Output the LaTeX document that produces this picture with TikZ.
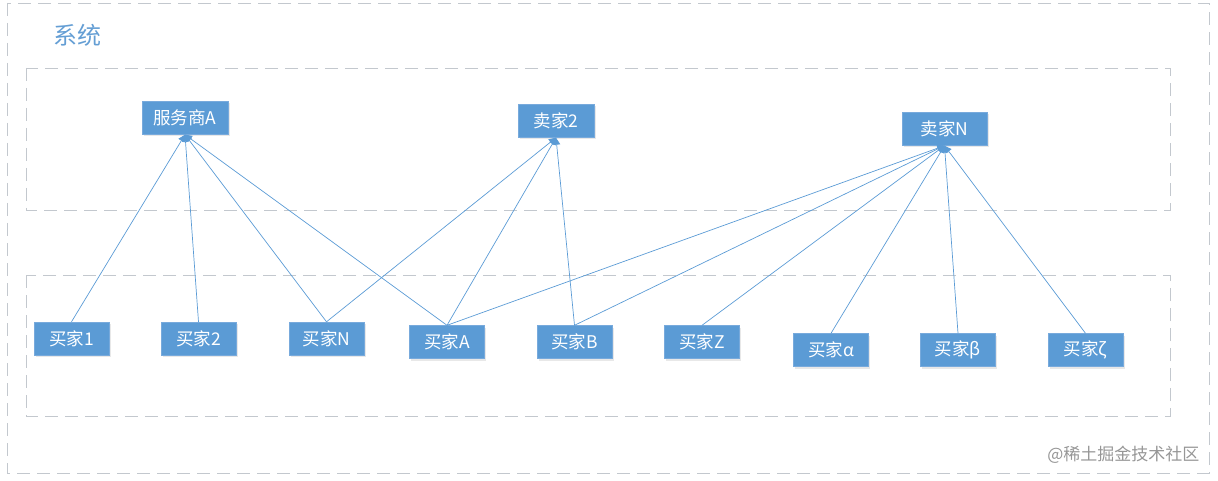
\documentclass[tikz,border=0pt]{standalone}
\usepackage{fontspec}
\usepackage{tikz}
\usetikzlibrary{
  arrows.meta,
  shadows
}
\newfontfamily\cjk{Noto Sans CJK SC}
\definecolor{boxblue}{RGB}{91,155,213}
\definecolor{boxedge}{RGB}{120,170,220}
\definecolor{titleblue}{RGB}{100,158,212}
\definecolor{frameline}{RGB}{195,200,206}
\definecolor{markgray}{RGB}{150,150,150}
\tikzset{
  party/.style={draw=boxedge,fill=boxblue,text=white,inner sep=0pt,
    minimum width=75pt,minimum height=33pt,font=\cjk\fontsize{17.5}{17.5}\selectfont,
    drop shadow={opacity=0.18,shadow xshift=1.5pt,shadow yshift=-2pt}},
  frame/.style={draw=frameline,line width=0.9pt,dash pattern=on 13pt off 7pt},
  link/.style={-{Triangle[length=7pt,width=7pt]},draw=boxblue,line width=0.7pt},
  titlelab/.style={font=\cjk\fontsize{24}{24}\selectfont,text=titleblue,anchor=west},
  marklab/.style={font=\cjk\fontsize{17}{17}\selectfont,text=markgray,anchor=east}
}

\begin{document}
\begin{tikzpicture}[x=1pt,y=-1pt]
  \useasboundingbox (0,0) rectangle (1218,481);
  % frames
  \draw[frame] (7,3) rectangle (1209,473);
  \draw[frame] (26,68) rectangle (1170,210);
  \draw[frame] (26,275) rectangle (1170,416);
  \node[titlelab] (title) at (50,35) {系统};
  \node[marklab] (mark) at (1203,455) {@稀土掘金技术社区};
  % sellers
  \node[party,minimum width=86pt] (svcA) at (185,118) {服务商A};
  \node[party,minimum width=76pt] (sell2) at (556,121) {卖家2};
  \node[party,minimum width=85pt] (sellN) at (944.5,129) {卖家N};
  % buyers
  \node[party] (buy1) at (71.5,338.5) {买家1};
  \node[party] (buy2) at (198.5,338.5) {买家2};
  \node[party] (buyN) at (326.5,338.5) {买家N};
  \node[party] (buyA) at (447,342) {买家A};
  \node[party] (buyB) at (574.5,342) {买家B};
  \node[party] (buyZ) at (702,342) {买家Z};
  \node[party] (buyal) at (831,350) {买家α};
  \node[party] (buybe) at (958,350) {买家β};
  \node[party] (buyze) at (1085.5,350) {买家ζ};
  % links
  \foreach \b in {buy1,buy2,buyN,buyA}
    \draw[link] (\b.north) -- (svcA.south);
  \foreach \b in {buyN,buyA,buyB}
    \draw[link] (\b.north) -- (sell2.south);
  \foreach \b in {buyA,buyB,buyZ,buyal,buybe,buyze}
    \draw[link] (\b.north) -- (sellN.south);
\end{tikzpicture}
\end{document}
